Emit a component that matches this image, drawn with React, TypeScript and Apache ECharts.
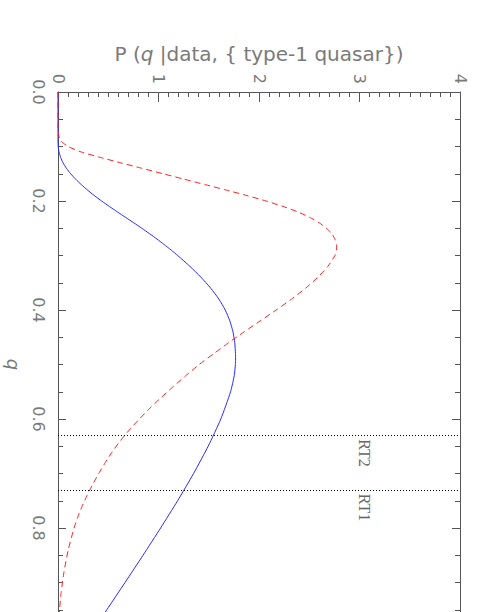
import React, { useEffect, useRef } from "react";
import * as echarts from "echarts";

// q values (vertical axis, increasing downward) and P(q|...) values (horizontal axis)
const blueQ = [0, 0.09, 0.1, 0.11, 0.12, 0.13, 0.14, 0.15, 0.16, 0.17, 0.18, 0.19, 0.2, 0.21, 0.22, 0.23, 0.24, 0.25, 0.26, 0.27, 0.28, 0.29, 0.3, 0.32, 0.34, 0.36, 0.38, 0.4, 0.42, 0.44, 0.46, 0.48, 0.49, 0.5, 0.52, 0.55, 0.6, 0.65, 0.7, 0.75, 0.8, 0.85, 0.9, 0.95, 1.0];
const blueP = [0, 0, 0.002, 0.01, 0.026, 0.05, 0.084, 0.126, 0.176, 0.232, 0.294, 0.361, 0.434, 0.511, 0.591, 0.672, 0.754, 0.834, 0.911, 0.986, 1.057, 1.126, 1.191, 1.313, 1.423, 1.52, 1.601, 1.664, 1.71, 1.741, 1.759, 1.766, 1.767, 1.765, 1.754, 1.717, 1.62, 1.494, 1.349, 1.19, 1.021, 0.846, 0.667, 0.486, 0.303];

const redQ = [0, 0.06, 0.07, 0.08, 0.09, 0.1, 0.11, 0.12, 0.13, 0.14, 0.15, 0.16, 0.17, 0.18, 0.19, 0.2, 0.21, 0.22, 0.23, 0.24, 0.25, 0.26, 0.27, 0.28, 0.29, 0.3, 0.32, 0.34, 0.36, 0.38, 0.4, 0.42, 0.44, 0.46, 0.48, 0.5, 0.52, 0.54, 0.56, 0.58, 0.6, 0.62, 0.64, 0.66, 0.68, 0.7, 0.72, 0.74, 0.76, 0.78, 0.8, 0.84, 0.88, 0.92, 0.96, 1.0];
const redP = [0, 0, 0.002, 0.008, 0.03, 0.1, 0.23, 0.42, 0.625, 0.835, 1.045, 1.255, 1.465, 1.675, 1.88, 2.07, 2.24, 2.385, 2.505, 2.6, 2.67, 2.725, 2.755, 2.772, 2.772, 2.755, 2.685, 2.585, 2.464, 2.324, 2.171, 2.012, 1.853, 1.698, 1.55, 1.405, 1.275, 1.15, 1.03, 0.915, 0.81, 0.71, 0.62, 0.54, 0.47, 0.405, 0.345, 0.29, 0.24, 0.197, 0.16, 0.102, 0.06, 0.03, 0.012, 0.004];

const refQ = [0.63, 0.73];
const refNames = ["RT2", "RT1"];
const refLabelP = 3.05;

const pMax = 4;
const qMax = 1;

export default function App() {
  const ref = useRef<HTMLDivElement>(null);
  useEffect(() => {
    document.body.style.margin = "0";
    const chart = echarts.init(ref.current!, null, { renderer: "svg" });
    const gray = "#7a7a7a";
    const axisColor = "#555";
    const font = "DejaVu Sans";
    const tickCommon = { show: true, inside: true, lineStyle: { color: axisColor, width: 1 } };
    const option: any = {
      animation: false,
      grid: { left: 58, top: 92, width: 402, height: 545, containLabel: false, outerBoundsMode: "none" },
      xAxis: [
        {
          type: "value",
          position: "top",
          min: 0,
          max: pMax,
          interval: 1,
          name: "{n|P (}{i|q}{n| |data, { type-1 quasar}})",
          nameLocation: "middle",
          nameGap: 28,
          nameTextStyle: {
            color: gray,
            fontFamily: font,
            fontSize: 20,
            rich: {
              n: { color: gray, fontFamily: font, fontSize: 20 },
              i: { color: gray, fontFamily: font, fontSize: 20, fontStyle: "italic" },
            },
          },
          axisLine: { show: true, lineStyle: { color: axisColor, width: 1 } },
          axisTick: { ...tickCommon, length: 10 },
          minorTick: { show: true, splitNumber: 10, length: 5, lineStyle: { color: axisColor, width: 1 } },
          axisLabel: { rotate: -90, color: gray, fontFamily: font, fontSize: 16, margin: 8 },
          splitLine: { show: false },
          minorSplitLine: { show: false },
        },
      ],
      yAxis: [
        {
          type: "value",
          inverse: true,
          position: "left",
          min: 0,
          max: qMax,
          interval: 0.2,
          name: "q",
          nameLocation: "middle",
          nameGap: 36,
          nameRotate: -90,
          nameTextStyle: { color: gray, fontFamily: font, fontSize: 18, fontStyle: "italic" },
          axisLine: { show: true, lineStyle: { color: axisColor, width: 1 } },
          axisTick: { ...tickCommon, length: 8 },
          minorTick: { show: true, splitNumber: 4, length: 5, lineStyle: { color: axisColor, width: 1 } },
          axisLabel: {
            rotate: -90,
            color: gray,
            fontFamily: font,
            fontSize: 16,
            margin: 12,
            showMaxLabel: false,
            formatter: (v: number) => v.toFixed(1),
          },
          splitLine: { show: false },
        },
        {
          type: "value",
          inverse: true,
          position: "right",
          min: 0,
          max: qMax,
          interval: 0.2,
          axisLine: { show: true, lineStyle: { color: axisColor, width: 1 } },
          axisTick: { ...tickCommon, length: 8 },
          minorTick: { show: true, splitNumber: 4, length: 5, lineStyle: { color: axisColor, width: 1 } },
          axisLabel: { show: false },
          splitLine: { show: false },
        },
      ],
      series: [
        {
          type: "line",
          name: "blue",
          xAxisIndex: 0,
          yAxisIndex: 0,
          data: blueQ.map((q, i) => [blueP[i], q]),
          showSymbol: false,
          smooth: 0.2,
          lineStyle: { color: "#2a2aff", width: 1 },
          z: 3,
        },
        {
          type: "line",
          name: "red",
          xAxisIndex: 0,
          yAxisIndex: 0,
          data: redQ.map((q, i) => [redP[i], q]),
          showSymbol: false,
          smooth: 0.2,
          lineStyle: { color: "#ff2020", width: 1, type: [6, 4] },
          z: 3,
          markLine: {
            silent: true,
            symbol: "none",
            label: { show: false },
            lineStyle: { color: "#000", width: 1, type: [1, 2] },
            data: refQ.map((q) => ({ yAxis: q })),
          },
        },
      ],
    };
    chart.setOption(option);
    const graphics = refQ.map((q, i) => {
      const pt = chart.convertToPixel({ xAxisIndex: 0, yAxisIndex: 0 }, [refLabelP, q]) as number[];
      return {
        type: "text",
        x: pt[0],
        y: pt[1] + 4,
        rotation: -Math.PI / 2,
        style: {
          text: refNames[i],
          fill: "#666",
          fontFamily: "Liberation Serif",
          fontSize: 16,
          textAlign: "left",
          textVerticalAlign: "middle",
        },
      };
    });
    chart.setOption({ graphic: graphics });
    return () => chart.dispose();
  }, []);
  return <div ref={ref} style={{ width: 490, height: 612 }} />;
}
